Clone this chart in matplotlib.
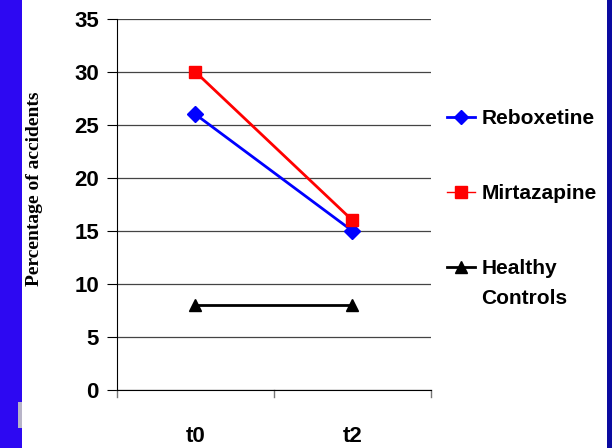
import matplotlib
matplotlib.use("Agg")
import matplotlib.pyplot as plt
from matplotlib.patches import Rectangle

categories = ["t0", "t2"]
reboxetine = [26, 15]
mirtazapine = [30, 16]
healthy = [8, 8]
y_ticks = [0, 5, 10, 15, 20, 25, 30, 35]

plt.rcParams["font.family"] = ["Liberation Sans Narrow", "Liberation Sans", "DejaVu Sans"]

fig = plt.figure(figsize=(6.12, 4.48), dpi=100)
fig.patch.set_facecolor("white")

# slide edges
fig.patches.append(Rectangle((0, 0), 22 / 612, 1, transform=fig.transFigure,
                             facecolor="#2D08F2", edgecolor="none", zorder=0))
fig.patches.append(Rectangle((18 / 612, 20 / 448), 4 / 612, 26 / 448, transform=fig.transFigure,
                             facecolor="#B8B4C8", edgecolor="none", zorder=0))
fig.patches.append(Rectangle((607 / 612, 0), 5 / 612, 1, transform=fig.transFigure,
                             facecolor="#0A0AA0", edgecolor="none", zorder=0))

ax = fig.add_axes([117 / 612, 58 / 448, 314 / 612, 371 / 448])
x = list(range(len(categories)))

ax.plot(x, reboxetine, color="#0000FF", lw=2, marker="D", ms=8, label="Reboxetine")
ax.plot(x, mirtazapine, color="#FF0000", lw=2, marker="s", ms=9, label="Mirtazapine")
ax.plot(x, healthy, color="black", lw=2, marker="^", ms=9, label="Healthy")

ax.set_xlim(-0.5, 1.5)
ax.set_ylim(0, 35)
ax.set_yticks(y_ticks)
ax.set_yticklabels([str(v) for v in y_ticks], fontsize=16, fontweight="bold")
ax.set_xticks(x)
ax.set_xticklabels(categories, fontsize=16, fontweight="bold")
ax.tick_params(axis="x", length=0, pad=26)
ax.tick_params(axis="y", length=7, width=0.8, direction="out", pad=6)
for xb in [-0.5, 0.5, 1.5]:
    ax.plot([xb, xb], [0, -0.02], transform=ax.get_xaxis_transform(),
            color="#777777", lw=1, clip_on=False)

ax.yaxis.grid(True, color="#444444", lw=0.9)
ax.set_axisbelow(True)
for s in ["top", "right"]:
    ax.spines[s].set_visible(False)
ax.spines["left"].set_linewidth(0.8)
ax.spines["bottom"].set_linewidth(0.8)

fig.text(35 / 612, 1 - 189 / 448, "Percentage of accidents", rotation=90,
         family=["Liberation Serif", "DejaVu Serif"], fontsize=14, fontweight="bold",
         ha="center", va="center")

leg = ax.legend(loc="upper left", bbox_to_anchor=(1.025, 0.78), frameon=False,
                borderaxespad=0, prop={"weight": "bold", "size": 15}, handlelength=1.35,
                handletextpad=0.3, labelspacing=2.7, markerscale=0.9)
# the red handle is drawn with a thin line in the original
leg.get_lines()[1].set_linewidth(1)
fig.canvas.draw()
last = leg.get_texts()[-1]
bb = last.get_window_extent()
fig.text(bb.x0 / 612, (bb.y0 - 11) / 448, "Controls", fontsize=15, fontweight="bold",
         ha="left", va="top")

fig.savefig("out.png", dpi=100)
